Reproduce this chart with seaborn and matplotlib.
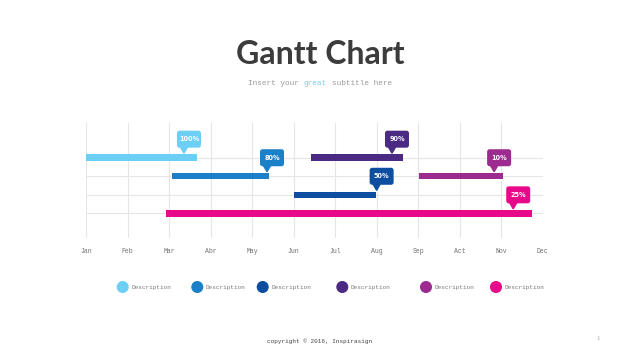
import matplotlib
matplotlib.use("Agg")
import matplotlib.pyplot as plt
import matplotlib.transforms as mtransforms
from matplotlib.patches import FancyBboxPatch, Polygon
import pandas as pd
import seaborn as sns

# ---------------- data ----------------
months = ["Jan", "Feb", "Mar", "Abr", "May", "Jun", "Jul", "Aug", "Sep", "Act", "Nov", "Dec"]
task_labels = ["Description"] * 6
task_rows = [0, 1, 2, 0, 1, 3]
task_start = [0.0, 2.08, 5.0, 5.43, 8.03, 1.93]
task_end = [2.68, 4.40, 6.99, 7.63, 10.04, 10.74]
task_progress = ["100%", "80%", "50%", "90%", "10%", "25%"]
task_marker = [2.36, 4.36, 7.0, 7.37, 9.83, 10.29]
task_colors = ["#6DCFF6", "#1B80C8", "#0D4EA0", "#4B2A84", "#9C2A8F", "#E8098A"]

df = pd.DataFrame({"row": task_rows, "start": task_start, "end": task_end,
                   "progress": task_progress, "marker": task_marker,
                   "color": task_colors, "label": task_labels})

# ---------------- style ----------------
sns.set_theme(style="whitegrid")
plt.rcParams["font.family"] = ["DejaVu Sans"]
MONO = ["Liberation Mono", "DejaVu Sans Mono"]

fig = plt.figure(figsize=(6.4, 3.6), dpi=100)
fig.patch.set_facecolor("white")
ax = fig.add_axes([86 / 640, 1 - 238 / 360, (542.7 - 86) / 640, 115 / 360])
ax.set_facecolor("white")

# bars
for _, r in df.iterrows():
    ax.barh(r["row"], r["end"] - r["start"], left=r["start"], height=0.35,
            color=r["color"], edgecolor="none", zorder=3)

ax.set_xlim(0, 11)
ax.set_ylim(4.33, -1.87)
ax.set_xticks(range(len(months)))
ax.set_xticklabels(months, family=MONO, fontsize=4.7, color="#707070")
ax.set_yticks([0, 1, 2, 3])
ax.set_yticklabels([])
ax.tick_params(axis="both", length=0, pad=7)
ax.grid(True, color="#e6e6e6", linewidth=0.8)
for s in ax.spines.values():
    s.set_visible(False)

# callouts (sizes in inches relative to the marker point)
for _, r in df.iterrows():
    tr = fig.dpi_scale_trans + mtransforms.ScaledTranslation(r["marker"], r["row"], ax.transData)
    tri = Polygon([(0, 0.045), (-0.035, 0.105), (0.035, 0.105)], closed=True,
                  transform=tr, color=r["color"], zorder=5, clip_on=False)
    ax.add_patch(tri)
    box = FancyBboxPatch((-0.07, 0.10), 0.24, 0.17,
                         boxstyle="round,pad=0,rounding_size=0.025",
                         transform=tr, facecolor=r["color"], edgecolor="none",
                         zorder=5, clip_on=False)
    ax.add_patch(box)
    ax.text(0.05, 0.185, r["progress"], transform=tr, ha="center", va="center",
            color="white", fontsize=4.7, fontweight="bold", zorder=6)

# titles
fig.text(0.5, 1 - 64 / 360, "Gantt Chart", ha="center", va="baseline",
         family=["Lato", "DejaVu Sans"], fontweight="bold", fontsize=23, color="#3c3c3c")
sub_fs = 5.6
char_w = sub_fs * 100 / 72 * 0.6 / 640  # monospace advance in figure fraction
sub_x = 248 / 640
sub_y = 1 - 85 / 360
for offset, piece, col in [(0, "Insert your", "#9a9a9a"), (12, "great", "#7ccdf0"),
                           (18, "subtitle here", "#9a9a9a")]:
    fig.text(sub_x + offset * char_w, sub_y, piece, ha="left", va="baseline",
             family=MONO, fontsize=sub_fs, color=col)

# legend
lax = fig.add_axes([0, 0, 1, 1], zorder=-1)
lax.set_xlim(0, 640)
lax.set_ylim(360, 0)
lax.axis("off")
legend_x = [122.7, 197.3, 262.7, 342.3, 426, 496]
legend_y = 287
sns.scatterplot(x=legend_x, y=[legend_y] * 6, hue=list(range(6)),
                palette=task_colors, s=75, edgecolor="none", legend=False, ax=lax)
for lx, lab in zip(legend_x, df["label"]):
    lax.text(lx + 8.5, legend_y, lab, ha="left", va="center", family=MONO,
             fontsize=4.3, color="#7a7a7a")

lax.text(320, 341, "copyright \u00a9 2016, Inspirasign", ha="center", va="center",
         family=MONO, fontsize=4.3, color="#444444")
lax.text(598, 338, "1", ha="center", va="center", family=MONO, fontsize=4, color="#aaaaaa")

fig.savefig("out.png", dpi=100, facecolor="white")
